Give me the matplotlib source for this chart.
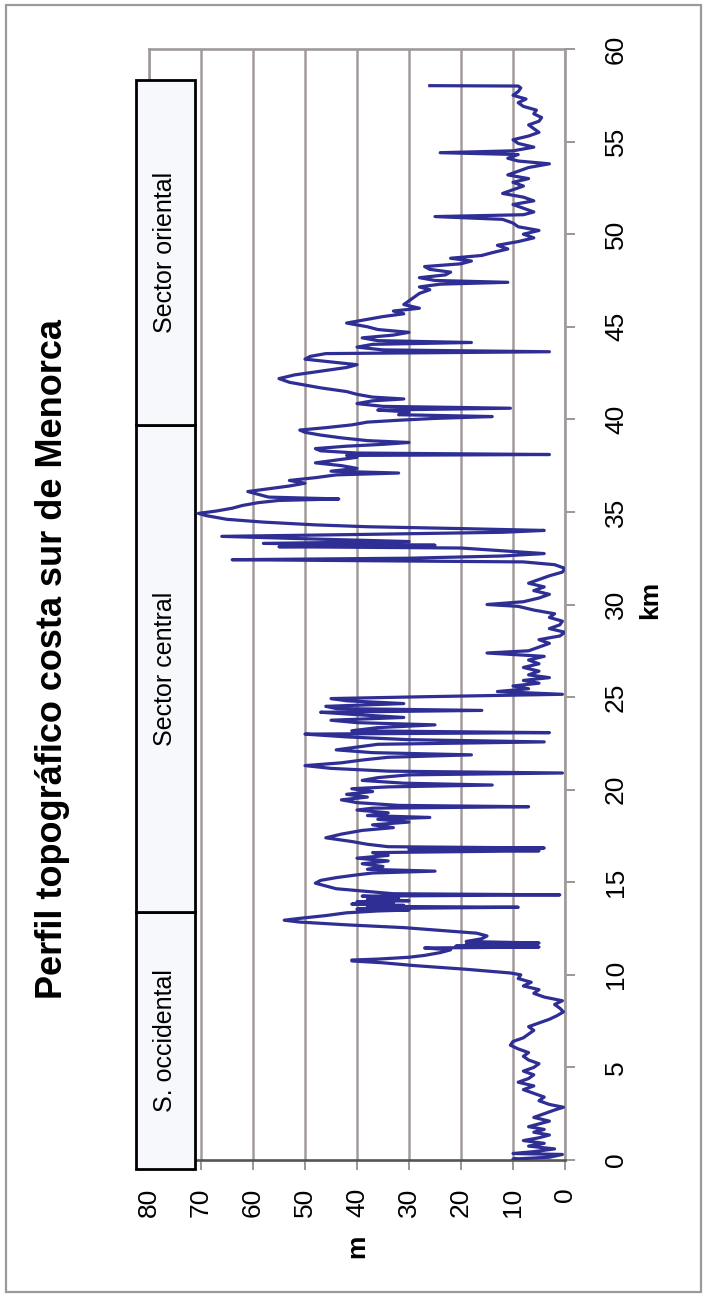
import matplotlib
matplotlib.use("Agg")
import matplotlib.pyplot as plt
from matplotlib.patches import Rectangle

# ---------------- data ----------------
km = [0.00, 0.05, 0.15, 0.30, 0.35, 0.45, 0.60, 0.75, 0.90, 1.05, 1.20, 1.35, 1.50, 1.65, 1.80, 1.95,
      2.10, 2.30, 2.50, 2.70, 2.85, 3.00, 3.20, 3.40, 3.60, 3.80, 4.00, 4.20, 4.40, 4.60, 4.80, 5.00,
      5.20, 5.40, 5.60, 5.80, 6.00, 6.20, 6.40, 6.60, 6.80, 7.00, 7.20, 7.40, 7.60, 7.80, 8.00, 8.20,
      8.40, 8.60, 8.80, 9.00, 9.20, 9.40, 9.60, 9.80, 10.00, 10.10, 10.30, 10.50, 10.65, 10.75, 10.80,
      10.85, 10.95, 11.05, 11.20, 11.35, 11.45, 11.50, 11.55, 11.60, 11.65, 11.72, 11.80, 11.95, 12.10,
      12.25, 12.40, 12.55, 12.70, 12.85, 12.95, 13.05, 13.20, 13.35, 13.45, 13.50, 13.55, 13.60, 13.65,
      13.70, 13.75, 13.82, 13.88, 13.95, 14.00, 14.08, 14.15, 14.25, 14.32, 14.38, 14.50, 14.65, 14.80,
      14.95, 15.10, 15.25, 15.40, 15.50, 15.60, 15.70, 15.85, 16.00, 16.15, 16.30, 16.45, 16.60, 16.70,
      16.78, 16.85, 16.92, 17.05, 17.20, 17.40, 17.60, 17.80, 17.95, 18.10, 18.25, 18.40, 18.50, 18.60,
      18.75, 18.90, 19.00, 19.08, 19.15, 19.30, 19.45, 19.60, 19.75, 19.90, 20.05, 20.15, 20.25, 20.35,
      20.50, 20.65, 20.80, 20.90, 21.00, 21.15, 21.30, 21.45, 21.60, 21.75, 21.88, 22.00, 22.15, 22.30,
      22.45, 22.58, 22.70, 22.85, 23.00, 23.08, 23.18, 23.35, 23.50, 23.62, 23.75, 23.90, 24.05, 24.18,
      24.28, 24.38, 24.50, 24.65, 24.80, 24.92, 25.02, 25.15, 25.30, 25.45, 25.60, 25.75, 25.90, 26.05,
      26.20, 26.40, 26.60, 26.80, 27.00, 27.20, 27.38, 27.50, 27.70, 27.90, 28.10, 28.30, 28.50, 28.70,
      28.90, 29.10, 29.30, 29.50, 29.70, 29.90, 30.00, 30.15, 30.35, 30.55, 30.75, 30.95, 31.15, 31.35,
      31.55, 31.75, 31.95, 32.15, 32.30, 32.42, 32.50, 32.62, 32.75, 32.90, 33.05, 33.12, 33.20, 33.30,
      33.40, 33.55, 33.68, 33.78, 33.90, 34.00, 34.10, 34.20, 34.30, 34.45, 34.60, 34.80, 34.92, 35.05,
      35.20, 35.35, 35.50, 35.62, 35.70, 35.80, 35.95, 36.10, 36.25, 36.40, 36.55, 36.70, 36.85, 37.00,
      37.10, 37.20, 37.35, 37.50, 37.65, 37.80, 37.95, 38.05, 38.10, 38.18, 38.30, 38.42, 38.55, 38.65,
      38.75, 38.85, 39.00, 39.15, 39.30, 39.42, 39.55, 39.70, 39.85, 39.95, 40.05, 40.15, 40.25, 40.40,
      40.50, 40.60, 40.70, 40.85, 41.00, 41.10, 41.20, 41.35, 41.50, 41.70, 41.85, 42.00, 42.20, 42.40,
      42.60, 42.80, 42.95, 43.10, 43.25, 43.40, 43.55, 43.65, 43.75, 43.90, 44.05, 44.15, 44.25, 44.40,
      44.55, 44.70, 44.85, 45.00, 45.20, 45.40, 45.55, 45.70, 45.85, 46.00, 46.20, 46.40, 46.60, 46.80,
      47.00, 47.15, 47.30, 47.40, 47.50, 47.65, 47.80, 47.95, 48.10, 48.25, 48.40, 48.55, 48.70, 48.85,
      49.00, 49.20, 49.40, 49.60, 49.80, 50.00, 50.20, 50.40, 50.60, 50.80, 50.95, 51.05, 51.20, 51.40,
      51.60, 51.80, 52.00, 52.20, 52.40, 52.60, 52.80, 53.00, 53.20, 53.40, 53.60, 53.80, 53.95, 54.10,
      54.30, 54.40, 54.50, 54.70, 54.90, 55.10, 55.30, 55.50, 55.70, 55.90, 56.10, 56.30, 56.50, 56.70,
      56.90, 57.10, 57.30, 57.50, 57.70, 57.90, 58.00, 58.02]

elev_m = [8, 10, 3, 0.5, 10, 6, 2, 7, 4, 8, 5, 3, 6, 4, 7, 5,
          3, 6, 4, 2, 0.3, 3, 5, 4, 6, 8, 6, 9, 7, 6, 8, 6,
          5, 7, 8, 7, 9, 10.5, 10, 8, 7, 6, 7, 5, 3, 1.5, 0.3, 1,
          2, 0.5, 4, 6, 5, 8, 6.5, 9, 8.5, 10.5, 19, 29, 35, 41, 41,
          36, 30, 27, 24, 22, 27, 5, 21, 6, 19, 5, 19, 16, 15,
          17, 24, 31, 42, 51, 54, 51, 46, 42, 36, 30, 40, 29, 9,
          38, 31, 41, 33, 40, 30, 38, 32, 39, 1, 33, 38, 44, 46,
          48, 47, 44, 40, 37, 25, 38, 35, 39, 34, 40, 34, 37, 5,
          30, 4, 34, 38, 41, 46, 43, 39, 33, 37, 30, 36, 26, 38,
          34, 40, 37, 7, 32, 40, 43, 38, 42, 37, 41, 34, 14, 31,
          39, 36, 30, 0.5, 34, 45, 50, 43, 39, 34, 18, 37, 44, 40,
          36, 4, 30, 42, 50, 3, 41, 36, 25, 40, 45, 31, 40, 47,
          16, 44, 46, 31, 42, 45, 27, 0.5, 13, 7, 10, 5, 8, 3,
          7, 5, 8, 5, 7, 4, 15, 7, 5, 3, 5, 1, 0, 3,
          1, 0.5, 3, 2, 6, 9, 15, 8, 5, 3, 6, 4, 7, 5,
          3, 0.5, 0, 2, 8, 64, 30, 12, 4, 12, 20, 55, 25, 58,
          30, 50, 66, 40, 12, 4, 20, 38, 48, 58, 65, 69, 70.5, 67,
          64, 62, 59, 55, 43.5, 57, 59, 61, 57, 53, 50, 53, 48, 44,
          32, 45, 40, 43, 48, 44, 40, 42, 3, 40, 47, 48, 42, 35,
          30, 38, 43, 47, 50, 51, 46, 41, 38, 32, 25, 14, 32, 30,
          36, 10.5, 35, 40, 37, 31, 37, 40, 42, 47, 50, 53, 55, 52,
          47, 42, 40, 45, 50, 49, 46, 3, 35, 40, 37, 18, 36, 39,
          33, 30, 36, 38, 42, 38, 35, 31, 33, 28, 31, 30, 29, 28,
          26, 28, 24, 11, 25, 28, 23, 22, 26, 27, 20, 18, 22, 16,
          14, 11, 13, 9, 6, 8, 5, 9, 10, 12, 25, 8, 6, 8,
          10, 6, 8, 12, 10, 8, 10, 7, 11, 9, 7, 3, 9, 11,
          9, 24, 10, 6, 9, 10, 7, 5, 6, 7, 5, 4.5, 6, 5.5,
          8, 9, 7.5, 10, 9, 8.5, 9, 26]

sector_names = ["S. occidental", "Sector central", "Sector oriental"]
sector_bounds_km = [(-0.5, 13.4), (13.4, 39.7), (39.7, 58.3)]

m_ticks = [0, 10, 20, 30, 40, 50, 60, 70, 80]
km_ticks = [0, 5, 10, 15, 20, 25, 30, 35, 40, 45, 50, 55, 60]

title = "Perfil topográfico costa sur de Menorca"

# ---------------- figure ----------------
plt.rcParams["font.family"] = ["Liberation Sans", "DejaVu Sans"]
W, H = 707, 1296
fig = plt.figure(figsize=(W / 100, H / 100), dpi=100)
fig.patch.set_facecolor("white")

# outer frame
fig.add_artist(Rectangle((6 / W, 4 / H), (W - 12) / W, (H - 9) / H,
                         transform=fig.transFigure, fill=False,
                         edgecolor="#9a9a9a", lw=1.6))

ax_l, ax_r, ax_b, ax_t = 149, 565, 1160, 49
ax = fig.add_axes([ax_l / W, 1 - ax_b / H, (ax_r - ax_l) / W, (ax_b - ax_t) / H])

ax.plot(elev_m, km, color="#2e2e94", lw=2.3, solid_joinstyle="round", zorder=3)

ax.set_xlim(80, 0)
ax.set_ylim(0, 60)

ax.set_xticks(m_ticks)
ax.set_xticklabels([str(t) for t in m_ticks], rotation=90, va="top", ha="center")
ax.yaxis.tick_right()
ax.set_yticks(km_ticks)
ax.set_yticklabels([str(t) for t in km_ticks], rotation=90, va="center", ha="left")

ax.tick_params(axis="x", length=7, width=1.2, color="#8a8585", labelsize=19, pad=13)
ax.tick_params(axis="y", length=7, width=1.2, color="#8a8585", labelsize=19, pad=21)

ax.grid(axis="x", color="#a39a9a", lw=1.8, zorder=1)
ax.grid(axis="y", visible=False)

for side in ["top", "left", "right"]:
    ax.spines[side].set_color("#a09a9a")
    ax.spines[side].set_linewidth(1.9)
ax.spines["bottom"].set_color("#555555")
ax.spines["bottom"].set_linewidth(1.9)

ax.set_xlabel("m", fontsize=19, fontweight="bold", rotation=90, va="center", ha="center")
ax.xaxis.set_label_coords(0.5, -0.0775)
ax.yaxis.set_label_position("right")
ax.set_ylabel("km", fontsize=19, fontweight="bold", rotation=90, va="center", ha="center")
ax.yaxis.set_label_coords(1.204, 0.5045)

# sector boxes
for name, (k0, k1) in zip(sector_names, sector_bounds_km):
    ax.add_patch(Rectangle((71.2, k0), 11.3, k1 - k0, facecolor="#f6f8fc",
                           edgecolor="black", lw=2.0, clip_on=False, zorder=4))
    ax.text(76.85, (k0 + k1) / 2, name, rotation=90, ha="center", va="center",
            fontsize=18, clip_on=False, zorder=5)

fig.text(53 / W, 1 - 659 / H, title, rotation=90, ha="center", va="center",
         fontsize=26, fontweight="bold")

fig.savefig("out.png", dpi=100)
